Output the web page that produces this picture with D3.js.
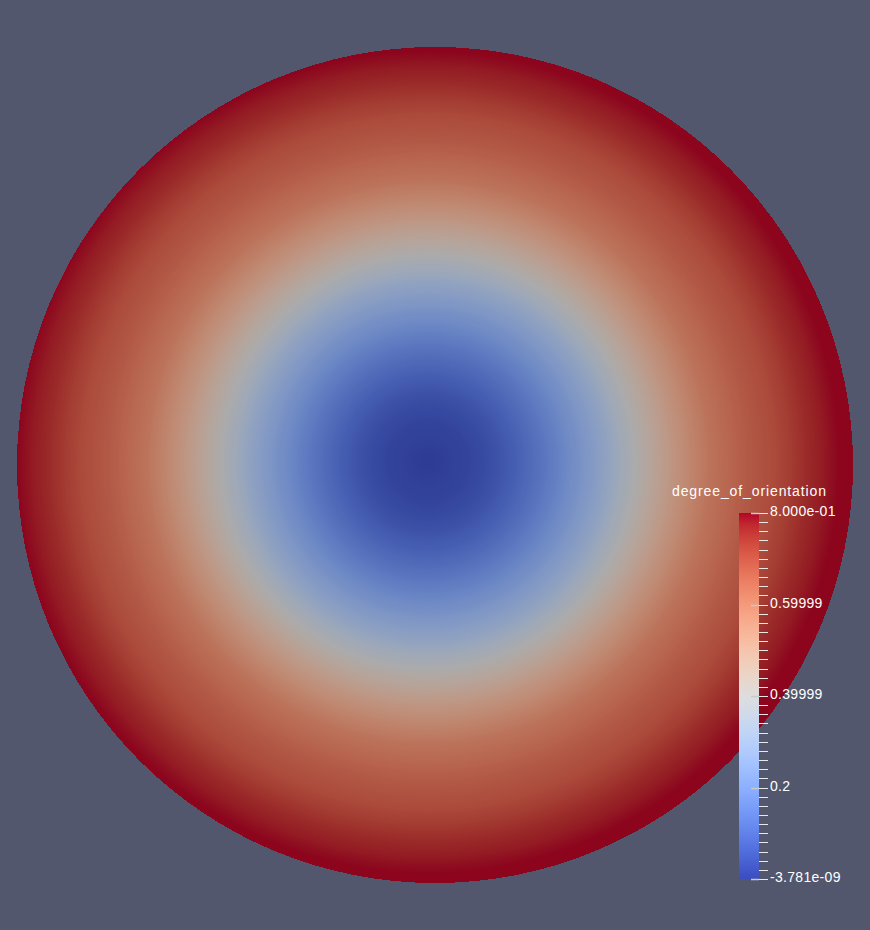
<!DOCTYPE html>
<html>
<head>
<meta charset="utf-8">
<script src="https://cdn.jsdelivr.net/npm/d3@7"></script>
<style>
  html, body { margin: 0; padding: 0; background: #52576e; }
  svg { display: block; }
  text { font-family: "Liberation Sans", Arial, sans-serif; fill: #ffffff; }
</style>
</head>
<body>
<div id="chart"></div>
<script>
// DATA ///////////////////////////////////////////////////////////////////////

const fieldName = "degree_of_orientation";
const rangeMin = -3.781e-09;
const rangeMax = 0.8;

// radial profile of the field (distance from centre in px)
const fieldDist  = [0, 40, 64, 90, 114, 147, 180, 207, 247, 281, 320, 347, 380, 412];
const fieldValue = [0, 0.02, 0.045, 0.09, 0.14, 0.22, 0.31, 0.40, 0.52, 0.61, 0.67, 0.70, 0.76, 0.80];

// "Cool to Warm" colour map control points (0..1)
const cmapPos = d3.range(33).map(i => i / 32);
const cmapColors = [
  "#3b4cc0", "#445acc", "#4d68d7", "#5775e1", "#6282ea", "#6c8ef1", "#779af7", "#82a5fb",
  "#8db0fe", "#98b9ff", "#a3c2ff", "#aec9fd", "#b8d0f9", "#c2d5f4", "#ccd9ee", "#d5dbe6",
  "#dddddd", "#e5d8d1", "#ecd3c5", "#f1ccb9", "#f5c4ad", "#f7bba0", "#f7b194", "#f7a687",
  "#f49a7b", "#f18d6f", "#ec7f63", "#e57058", "#de604d", "#d55042", "#cb3e38", "#c0282f",
  "#b40426"
];

const tickValues = [0, 0.2, 0.4, 0.6, 0.8];
const tickLabels = ["-3.781e-09", "0.2", "0.39999", "0.59999", "8.000e-01"];

// DRAW ///////////////////////////////////////////////////////////////////////

const W = 870, H = 930;
const disc = { cx: 435, cy: 465, r: 418 };
const fieldCentre = { x: 428, y: 462 };

const svg = d3.select("#chart").append("svg")
  .attr("width", W)
  .attr("height", H);

svg.append("rect").attr("width", W).attr("height", H).attr("fill", "#52576e");

const cmap = d3.scaleLinear()
  .domain(cmapPos.map(p => rangeMin + p * (rangeMax - rangeMin)))
  .range(cmapColors)
  .interpolate(d3.interpolateRgb)
  .clamp(true);

const profile = d3.scaleLinear().domain(fieldDist).range(fieldValue).clamp(true);

// lit surface is a little darker than the raw colour map
const shade = c => d3.rgb(c).darker(0.72).formatHex();

const defs = svg.append("defs");
const rMax = fieldDist[fieldDist.length - 1];

const radial = defs.append("radialGradient")
  .attr("id", "field")
  .attr("gradientUnits", "userSpaceOnUse")
  .attr("cx", fieldCentre.x)
  .attr("cy", fieldCentre.y)
  .attr("r", rMax)
  .attr("spreadMethod", "pad");

radial.selectAll("stop")
  .data(d3.range(0, rMax + 1, 3))
  .join("stop")
  .attr("offset", d => d / rMax)
  .attr("stop-color", d => shade(cmap(profile(d))));

svg.append("circle")
  .attr("cx", disc.cx)
  .attr("cy", disc.cy)
  .attr("r", disc.r)
  .attr("fill", "url(#field)")
  .attr("shape-rendering", "crispEdges");

// colour legend
const bar = { x: 739, y: 513, w: 20, h: 366 };

const y = d3.scaleLinear().domain([0, 0.8]).range([bar.y + bar.h, bar.y]);

const linear = defs.append("linearGradient")
  .attr("id", "bar")
  .attr("x1", 0).attr("y1", 1).attr("x2", 0).attr("y2", 0);

linear.selectAll("stop")
  .data(cmapPos)
  .join("stop")
  .attr("offset", d => d)
  .attr("stop-color", (d, i) => cmapColors[i]);

const legend = svg.append("g");

legend.append("rect")
  .attr("x", bar.x)
  .attr("y", bar.y)
  .attr("width", bar.w)
  .attr("height", bar.h)
  .attr("fill", "url(#bar)");

// minor ticks every 0.02
legend.selectAll(".minor")
  .data(d3.range(0, 41).map(i => i * 0.02))
  .join("line")
  .attr("class", "minor")
  .attr("x1", bar.x + bar.w)
  .attr("x2", bar.x + bar.w + 9)
  .attr("y1", d => Math.round(y(d)) + 0.5)
  .attr("y2", d => Math.round(y(d)) + 0.5)
  .attr("stroke", "#e8e8e8")
  .attr("stroke-width", 1);

legend.selectAll(".major")
  .data(tickValues)
  .join("line")
  .attr("class", "major")
  .attr("x1", bar.x + bar.w - 8)
  .attr("x2", bar.x + bar.w)
  .attr("y1", d => Math.round(y(d)) + 0.5)
  .attr("y2", d => Math.round(y(d)) + 0.5)
  .attr("stroke", "#c8c8c8")
  .attr("stroke-width", 1.5);

legend.selectAll(".label")
  .data(tickValues)
  .join("text")
  .attr("class", "label")
  .attr("x", bar.x + bar.w + 11)
  .attr("y", d => y(d) + 3)
  .attr("font-size", "14px")
  .attr("letter-spacing", "0.3px")
  .text((d, i) => tickLabels[i]);

legend.append("text")
  .attr("x", 672)
  .attr("y", 496)
  .attr("font-size", "14px")
  .attr("textLength", 154)
  .attr("lengthAdjust", "spacing")
  .text(fieldName);
</script>
</body>
</html>
